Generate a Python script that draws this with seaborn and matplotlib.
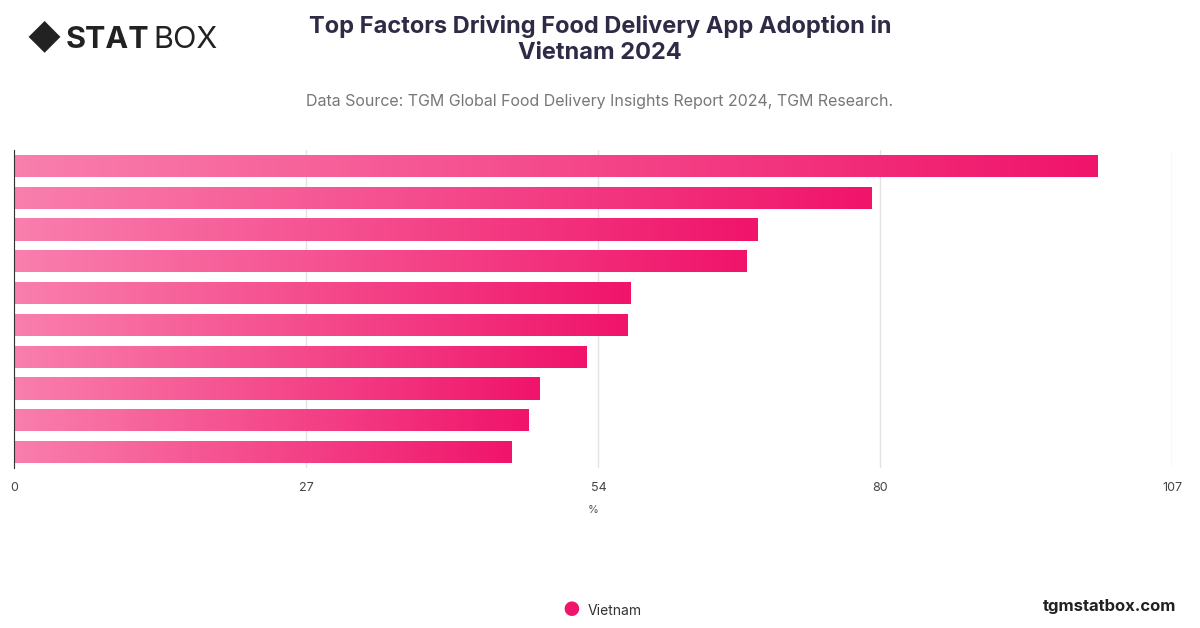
import numpy as np
import pandas as pd
import seaborn as sns
import matplotlib.pyplot as plt
from matplotlib.colors import LinearSegmentedColormap

factors = [f"Factor {i}" for i in range(1, 11)]
values = [100.1, 79.2, 68.7, 67.7, 57.0, 56.7, 52.9, 48.6, 47.5, 46.0]
ticks = [0, 27, 54, 80, 107]

df = pd.DataFrame({"factor": factors, "value": values})

sns.set_style("white")
plt.rcParams["font.family"] = ["Inter", "DejaVu Sans"]

fig = plt.figure(figsize=(12, 6.28), dpi=100)
ax = fig.add_axes([14 / 1200, 1 - 468 / 628, 1158 / 1200, 318 / 628])
sns.barplot(data=df, x="value", y="factor", ax=ax, color="#f0146a", width=0.7)

# gradient fill clipped to each bar
cmap = LinearSegmentedColormap.from_list("pink", ["#f97fad", "#f0146a"])
grad = np.linspace(0, 1, 256).reshape(1, -1)
for bar in ax.patches:
    x0, y0 = bar.get_x(), bar.get_y()
    w, h = bar.get_width(), bar.get_height()
    bar.set_facecolor("none")
    bar.set_edgecolor("none")
    im = ax.imshow(grad, cmap=cmap, aspect="auto", extent=[x0, x0 + w, y0 + h, y0],
                   zorder=2)
    im.set_clip_path(bar)

ax.set_xlim(0, 107)
ax.set_ylim(9.5, -0.5)
ax.set_xticks(ticks)
ax.set_xticklabels([str(t) for t in ticks], fontsize=9, color="#444444")
ax.set_yticks([])
ax.set_ylabel("")
ax.set_xlabel("%", fontsize=8, color="#555555", labelpad=8)
ax.grid(axis="x", color="#e3e3e3", linewidth=1)
ax.set_axisbelow(True)
for s in ["top", "right", "bottom"]:
    ax.spines[s].set_visible(False)
ax.spines["left"].set_color("#333333")
ax.spines["left"].set_linewidth(0.8)
ax.tick_params(axis="x", length=0, pad=10)

fig.text(0.5, 0.937, "Top Factors Driving Food Delivery App Adoption in\nVietnam 2024",
         ha="center", va="center", fontsize=17, fontweight="bold", color="#2d2b45",
         linespacing=1.25)
fig.text(0.5, 0.838, "Data Source: TGM Global Food Delivery Insights Report 2024, TGM Research.",
         ha="center", va="center", fontsize=11.5, color="#777777")

# logo
fig.text(0.022, 0.937, "\u25C6", fontsize=24, color="#222222", va="center")
fig.text(0.055, 0.937, "STAT", fontsize=22, fontweight="bold", color="#222222", va="center")
fig.text(0.128, 0.937, "BOX", fontsize=22, color="#222222", va="center")

# legend
fig.text(0.476, 0.027, "\u25CF", fontsize=14, color="#f0146a", ha="center", va="center")
fig.text(0.49, 0.027, "Vietnam", fontsize=10, color="#333333", va="center")
fig.text(0.98, 0.035, "tgmstatbox.com", fontsize=12, fontweight="bold", color="#222222",
         ha="right", va="center")

fig.savefig("out.png", dpi=100)
